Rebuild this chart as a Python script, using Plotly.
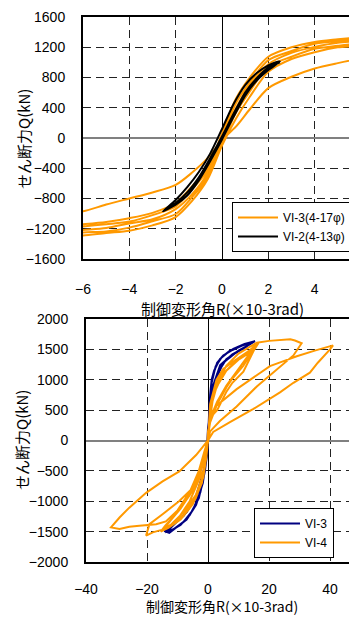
import plotly.graph_objects as go

# ---------------- data ----------------
# Top chart: R (x10^-3 rad) vs Q (kN)
top_r_grid = [-7, -6, -5, -4, -3, -2, -1.3, -0.6, 0, 0.6, 1.2, 2, 3, 4, 5, 6, 7]
vi3_top_c1 = [-1010, -970, -880, -800, -720, -620, -460, -260, -25, 150, 380, 660, 810, 920, 990, 1050, 1100]
vi3_top_c2 = [-1165, -1140, -1110, -1060, -990, -860, -640, -380, 60, 520, 800, 1075, 1200, 1270, 1305, 1335, 1360]
vi3_top_c3 = [-1200, -1170, -1140, -1105, -1020, -905, -680, -420, 20, 460, 735, 1030, 1150, 1245, 1280, 1315, 1335]
vi3_top_c4 = [-1240, -1215, -1190, -1130, -1075, -940, -745, -455, -20, 390, 695, 975, 1125, 1205, 1260, 1280, 1305]
vi3_top_c5 = [-1280, -1250, -1235, -1185, -1100, -1005, -785, -505, -70, 335, 615, 945, 1075, 1180, 1220, 1255, 1275]
vi3_top_c6 = [-1310, -1290, -1255, -1225, -1155, -1045, -835, -535, -100, 255, 545, 875, 1045, 1135, 1200, 1220, 1245]

vi2_top_r = [-2.55, -2, -1.5, -1, -0.5, 0, 0.5, 1, 1.5, 2, 2.5,
             2.3, 2, 1.5, 1, 0.5, 0, -0.5, -1, -1.5, -2, -2.55,
             -2, -1.5, -1, -0.5, 0, 0.5, 1, 1.5, 2, 2.5]
vi2_top_q = [-970, -880, -760, -560, -300, -20, 280, 560, 760, 900, 1010,
             1000, 960, 860, 700, 450, 120, -200, -450, -650, -820, -970,
             -860, -720, -520, -260, 20, 320, 600, 790, 930, 1000]

# Bottom chart: VI-3 (navy) cycles
vi3_cyc1 = [(0, 0), (0.3, 400), (0.7, 750), (1.2, 1000), (2, 1150), (3.9, 1340), (6, 1430), (8.3, 1510), (12, 1590), (15.4, 1635),
            (14, 1590), (12, 1530), (8, 1420), (4, 1240), (1.75, 915), (0.6, 500), (0, 200), (-0.3, -100),
            (-0.8, -400), (-1.7, -700), (-3.9, -1060), (-7, -1300), (-10.5, -1440), (-12.7, -1520), (-14.3, -1490),
            (-12, -1400), (-8, -1240), (-4, -950), (-1.7, -600), (-0.5, -200), (0, 0)]
vi3_cyc2 = [(0.4, 500), (0.9, 850), (1.5, 1050), (3, 1280), (5, 1400), (8, 1490), (11, 1560), (14, 1610),
            (12.5, 1540), (9, 1440), (5, 1280), (2.5, 1000), (1, 650), (0.2, 250), (-0.2, -150),
            (-1, -500), (-2.5, -850), (-5, -1150), (-8, -1340), (-11, -1450), (-13.5, -1500),
            (-11, -1380), (-7, -1180), (-3.5, -880), (-1.2, -450), (0, 0)]
vi3_cyc3 = [(0.5, 600), (1.2, 950), (2.5, 1220), (4.5, 1370), (7, 1470), (10, 1540), (13, 1600), (15, 1625),
            (13, 1560), (10, 1480), (6, 1340), (3, 1100), (1.3, 800), (0.3, 350), (-0.2, -200),
            (-1.2, -550), (-3, -950), (-6, -1230), (-9, -1390), (-12, -1480), (-14, -1510),
            (-12, -1410), (-8, -1230), (-4, -930), (-1.5, -520), (0, 0)]

# Bottom chart: VI-4 (orange) cycles
vi4_cyc1 = [(0, 0), (0.7, 600), (2.8, 1000), (5, 1180), (8.3, 1300), (11, 1400), (13.8, 1490), (16, 1590),
            (14.5, 1470), (11.6, 1230), (8, 1020), (6.1, 880), (3, 600), (0.7, 300), (0, 80),
            (-0.5, -250), (-1.5, -600), (-4, -950), (-8, -1230), (-12, -1400), (-15, -1480),
            (-13, -1360), (-9, -1120), (-5, -820), (-2, -450), (-0.5, -150), (0, 0)]
vi4_cyc2 = [(0.66, 500), (2.8, 880), (6, 1150), (10, 1330), (13.8, 1450), (16.5, 1600),
            (15, 1480), (11.6, 1133), (8, 950), (6.1, 808), (3, 500), (0.66, 374), (0, 120),
            (-0.6, -300), (-2, -700), (-5, -1050), (-9, -1300), (-13, -1440), (-15.5, -1500),
            (-14, -1400), (-10, -1180), (-6, -900), (-3, -580), (-1, -250), (0, -30)]
vi4_cyc3 = [(0.5, 400), (2, 780), (5, 1100), (9, 1300), (13, 1450), (15.5, 1560),
            (13.5, 1420), (10, 1180), (6, 900), (3, 640), (1, 400), (0, 150),
            (-0.4, -200), (-1.5, -550), (-4, -900), (-8, -1180), (-12, -1380), (-14.5, -1450),
            (-12.5, -1330), (-9, -1080), (-5, -760), (-2, -400), (0, 0)]
vi4_cyc30 = [(0.5, 300), (1.5, 650), (3, 950), (6, 1230), (10, 1430), (16, 1610), (20, 1640), (24, 1650), (27, 1665), (28.5, 1645), (30.7, 1600),
             (28, 1400), (22.5, 1160), (16, 890), (9.4, 560), (3.9, 320), (0.7, 150), (0, 0),
             (-0.5, -250), (-1.5, -500), (-3.9, -727), (-9.4, -997), (-14.9, -1214), (-19.2, -1377), (-20.3, -1566),
             (-18.1, -1512), (-15.5, -1475), (-13.8, -1458), (-10, -1300), (-6, -1000), (-3, -650), (-1, -250), (0, 0)]
vi4_cyc40 = [(0.66, 411), (2.8, 574), (9.4, 846), (15, 1040), (20.3, 1224), (25, 1310), (29.1, 1387), (35, 1480), (39, 1540), (41, 1566),
             (40, 1500), (38.9, 1442), (36, 1280), (33.4, 1117), (28, 950), (23.6, 792), (18, 620), (14.9, 520), (7.2, 304), (1.7, 141), (0, 0),
             (-1.2, -76), (-3.9, -239), (-9.4, -509), (-14.9, -672), (-20.3, -862), (-25.8, -1105), (-29, -1268), (-31.8, -1431),
             (-29, -1458), (-25.8, -1420), (-22.5, -1404), (-17, -1380), (-13.8, -1333), (-10, -1150), (-6, -850), (-3, -500), (-1, -150), (0, 0)]

top_x_ticks = [-6, -4, -2, 0, 2, 4, 6]
top_y_ticks = [-1600, -1200, -800, -400, 0, 400, 800, 1200, 1600]
bot_x_ticks = [-40, -20, 0, 20, 40, 60]
bot_y_ticks = [-2000, -1500, -1000, -500, 0, 500, 1000, 1500, 2000]

x_title = "制御変形角R(×10-3rad)"
y_title = "せん断力Q(kN)"

# ---------------- build paths ----------------
top_curves = [vi3_top_c1, vi3_top_c2, vi3_top_c3, vi3_top_c4, vi3_top_c5, vi3_top_c6]
vi3_top_r, vi3_top_q = [], []
for i, c in enumerate(top_curves):
    if i % 2 == 0:
        vi3_top_r += top_r_grid
        vi3_top_q += c
    else:
        vi3_top_r += top_r_grid[::-1]
        vi3_top_q += c[::-1]


def unzip(cycles):
    xs, ys = [], []
    for cyc in cycles:
        for a, b in cyc:
            xs.append(a)
            ys.append(b)
    return xs, ys


vi3_bot_r, vi3_bot_q = unzip([vi3_cyc1, vi3_cyc2, vi3_cyc3])
vi4_bot_r, vi4_bot_q = unzip([vi4_cyc1, vi4_cyc2, vi4_cyc3, vi4_cyc30, vi4_cyc40])

# ---------------- figure ----------------
PAGE_W, PAGE_H = 357, 617
OFF = 8  # default body margin of the html page
W, H = PAGE_W - OFF, PAGE_H - OFF
FONT = "Liberation Sans, Arial, Noto Sans CJK JP, sans-serif"
TITLE_FONT = "Noto Sans CJK JP, Liberation Sans, sans-serif"
ORANGE = "#FF9900"
NAVY = "#000080"


def px(v):
    """page pixel x -> paper fraction"""
    return (v - OFF) / W


def py(v):
    """page pixel y -> paper fraction"""
    return 1 - (v - OFF) / H


fig = go.Figure()
fig.add_trace(go.Scatter(x=vi3_top_r, y=vi3_top_q, mode="lines", name="VI-3(4-17φ)",
                         line=dict(color=ORANGE, width=2, shape="spline", smoothing=0.8),
                         xaxis="x", yaxis="y", legend="legend"))
fig.add_trace(go.Scatter(x=vi2_top_r, y=vi2_top_q, mode="lines", name="VI-2(4-13φ)",
                         line=dict(color="black", width=2, shape="spline", smoothing=0.6),
                         xaxis="x", yaxis="y", legend="legend"))
fig.add_trace(go.Scatter(x=vi3_bot_r, y=vi3_bot_q, mode="lines", name="VI-3",
                         line=dict(color=NAVY, width=2),
                         xaxis="x2", yaxis="y2", legend="legend2"))
fig.add_trace(go.Scatter(x=vi4_bot_r, y=vi4_bot_q, mode="lines", name="VI-4",
                         line=dict(color=ORANGE, width=2),
                         xaxis="x2", yaxis="y2", legend="legend2"))

grid_common = dict(showgrid=True, gridcolor="#222222", gridwidth=1, griddash="8px,5px",
                   ticks="", tickfont=dict(family=FONT, size=14, color="black"),
                   showline=True, linecolor="black", linewidth=2, automargin=False)

# top: -6 at page px 83, 0 at px 222 ; bottom: -40 at px 86, 0 at px 208
top_right = (PAGE_W - 222) / ((222 - 83) / 6)
bot_right = (PAGE_W - 208) / ((208 - 86) / 40)

fig.update_layout(
    width=W, height=H, margin=dict(l=0, r=0, t=0, b=0, autoexpand=False),
    paper_bgcolor="white", plot_bgcolor="white",
    font=dict(family=FONT, size=14, color="black"),
    xaxis=dict(domain=[px(83), 1], range=[-6, top_right], tickvals=top_x_ticks, anchor="y",
               mirror=True, zeroline=True, zerolinecolor="black", zerolinewidth=1,
               ticklabelstandoff=16, **grid_common),
    yaxis=dict(domain=[py(259), py(17)], range=[-1600, 1600], tickvals=top_y_ticks, anchor="x",
               mirror=False, zeroline=True, zerolinecolor="#808080", zerolinewidth=1.5,
               ticklabelstandoff=13, **grid_common),
    xaxis2=dict(domain=[px(86), 1], range=[-40, bot_right], tickvals=bot_x_ticks, anchor="y2",
                mirror=True, zeroline=True, zerolinecolor="black", zerolinewidth=1,
                ticklabelstandoff=13, **grid_common),
    yaxis2=dict(domain=[py(562), py(319)], range=[-2000, 2000], tickvals=bot_y_ticks, anchor="x2",
                mirror=False, zeroline=True, zerolinecolor="#808080", zerolinewidth=1.5,
                ticklabelstandoff=13, **grid_common),
    legend=dict(x=px(351), y=py(252), xanchor="right", yanchor="bottom",
                bgcolor="white", bordercolor="black", borderwidth=1,
                font=dict(family=FONT, size=12), tracegroupgap=0, itemwidth=40),
    legend2=dict(x=px(334), y=py(558), xanchor="right", yanchor="bottom",
                 bgcolor="white", bordercolor="black", borderwidth=1,
                 font=dict(family=FONT, size=12), tracegroupgap=0, itemwidth=40),
    showlegend=True,
)

ann = dict(showarrow=False, xref="paper", yref="paper")
tfont = dict(family=TITLE_FONT, size=15, color="black")
fig.add_annotation(text=x_title, x=px(222), y=py(308), xanchor="center", yanchor="middle", font=tfont, **ann)
fig.add_annotation(text=x_title, x=px(222), y=py(606), xanchor="center", yanchor="middle",
                   font=dict(family=TITLE_FONT, size=14, color="black"), borderpad=0, **ann)
fig.add_annotation(text=y_title, x=px(24), y=py(139), xanchor="center", yanchor="middle", textangle=-90, font=tfont, **ann)
fig.add_annotation(text=y_title, x=px(21), y=py(440), xanchor="center", yanchor="middle", textangle=-90, font=tfont, **ann)
# partially visible last tick label of the top chart (cut by the page edge)
fig.add_annotation(text=str(top_x_ticks[-1]), x=px(361), y=py(290), xanchor="center", yanchor="middle",
                   font=dict(family=FONT, size=14, color="black"), **ann)

fig.write_html("out.html")
